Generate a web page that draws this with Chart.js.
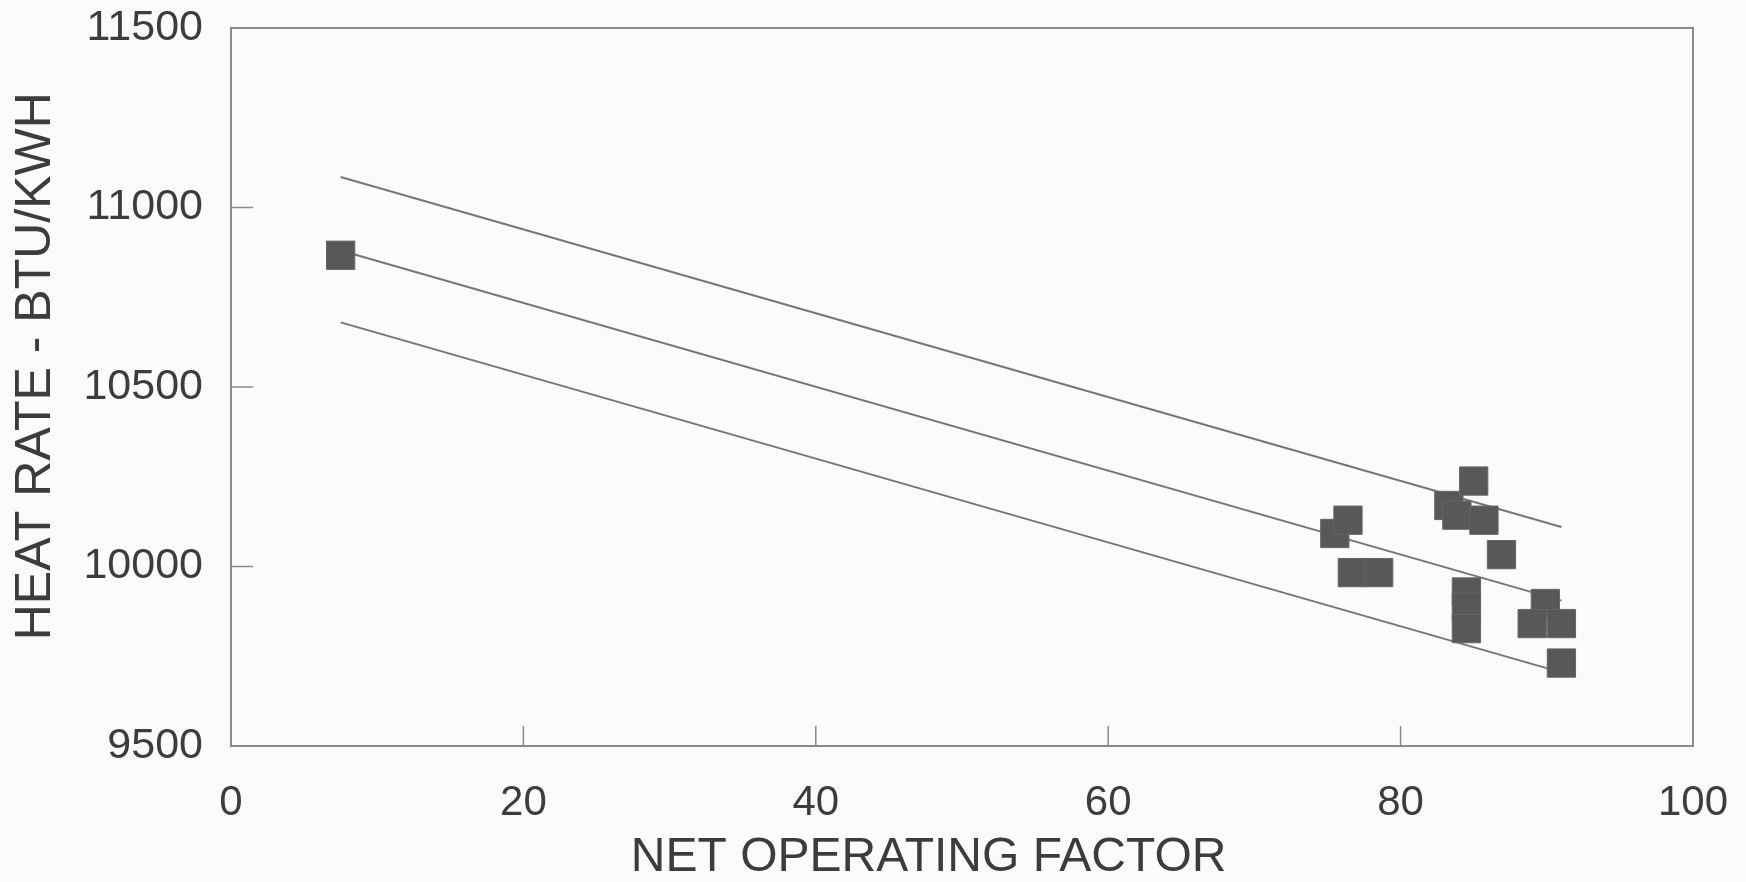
<!DOCTYPE html>
<html>
<head>
<meta charset="utf-8">
<script src="https://cdn.jsdelivr.net/npm/chart.js@4"></script>
<style>
  html, body { margin: 0; padding: 0; background: #fbfbfa; }
  #wrap { width: 1746px; height: 882px; }
</style>
</head>
<body>
<div id="wrap"><canvas id="heatRate"></canvas></div>
<script>
// plant data: net operating factor vs heat rate
const operatingFactor = [7.5, 75.5, 76.4, 76.7, 78.5, 83.3, 83.85, 85.0, 85.7, 86.9, 84.5, 84.5, 84.5, 89.9, 89.0, 91.0, 91.0];
const heatRate = [10867, 10092, 10129, 9983, 9983, 10170, 10143, 10238, 10129, 10033, 9929, 9887, 9827, 9897, 9841, 9841, 9731];

// regression line and the two bands
const lineX = [7.5, 91];
const upperBand = [11085, 10110];
const fitLine = [10880, 9905];
const lowerBand = [10680, 9705];

const xTicks = [0, 20, 40, 60, 80, 100];
const yTicks = [9500, 10000, 10500, 11000, 11500];

const toPoints = (xs, ys) => xs.map((x, i) => ({ x: x, y: ys[i] }));

const lineStyle = {
    showLine: true,
    borderColor: '#767676',
    borderWidth: 2,
    pointRadius: 0,
    fill: false
};

const axisColor = '#8a8a8a';
const textColor = '#3c3c3c';
const fontFamily = "'Liberation Sans', Arial, sans-serif";

// box round the plot and small ticks pointing inward
const frameTicks = {
    id: 'frameTicks',
    afterDraw(chart) {
        const { ctx, chartArea: a, scales } = chart;
        ctx.save();
        ctx.strokeStyle = axisColor;
        ctx.lineWidth = 2;
        ctx.strokeRect(a.left, a.top, a.right - a.left, a.bottom - a.top);
        ctx.beginPath();
        xTicks.slice(1, -1).forEach(v => {
            const px = scales.x.getPixelForValue(v);
            ctx.moveTo(px, a.bottom);
            ctx.lineTo(px, a.bottom - 20);
        });
        yTicks.slice(1, -1).forEach(v => {
            const py = scales.y.getPixelForValue(v);
            ctx.moveTo(a.left, py);
            ctx.lineTo(a.left + 22, py);
        });
        ctx.lineWidth = 1.5;
        ctx.stroke();
        ctx.restore();
    }
};

new Chart(document.getElementById('heatRate'), {
    type: 'scatter',
    data: {
        datasets: [
            {
                label: 'Heat rate',
                data: toPoints(operatingFactor, heatRate),
                pointStyle: 'rect',
                pointRadius: 20,
                backgroundColor: '#585858',
                borderColor: '#666666',
                borderWidth: 1
            },
            Object.assign({ label: 'Upper', data: toPoints(lineX, upperBand) }, lineStyle),
            Object.assign({ label: 'Fit', data: toPoints(lineX, fitLine) }, lineStyle),
            Object.assign({ label: 'Lower', data: toPoints(lineX, lowerBand) }, lineStyle)
        ]
    },
    options: {
        responsive: true,
        maintainAspectRatio: false,
        animation: false,
        layout: {
            padding: { top: 28, right: 53, bottom: 0, left: 0 }
        },
        plugins: {
            legend: { display: false },
            tooltip: { enabled: false }
        },
        scales: {
            x: {
                type: 'linear',
                min: 0,
                max: 100,
                afterBuildTicks: s => { s.ticks = xTicks.map(v => ({ value: v })); },
                afterFit: s => {
                    s.height = 136;
                    s.paddingLeft = 0;
                    s.paddingRight = 0;
                },
                grid: { display: false, drawTicks: false },
                border: { display: false },
                ticks: {
                    color: textColor,
                    padding: 32,
                    font: { family: fontFamily, size: 42 },
                    callback: v => String(v)
                },
                title: {
                    display: true,
                    text: 'NET OPERATING FACTOR     ',
                    color: textColor,
                    padding: 0,
                    font: { family: fontFamily, size: 48, lineHeight: 1 }
                }
            },
            y: {
                type: 'linear',
                min: 9500,
                max: 11500,
                afterBuildTicks: s => { s.ticks = yTicks.map(v => ({ value: v })); },
                afterFit: s => {
                    s.width = 231;
                    s.paddingTop = 0;
                    s.paddingBottom = 0;
                },
                grid: { display: false, drawTicks: false },
                border: { display: false },
                ticks: {
                    color: textColor,
                    padding: 28,
                    font: { family: fontFamily, size: 43 },
                    callback: v => String(v)
                },
                title: {
                    display: true,
                    text: '   HEAT RATE - BTU/KWH',
                    color: textColor,
                    padding: { top: 11, bottom: 0 },
                    font: { family: fontFamily, size: 50, lineHeight: 1 }
                }
            }
        }
    },
    plugins: [frameTicks]
});
</script>
</body>
</html>
